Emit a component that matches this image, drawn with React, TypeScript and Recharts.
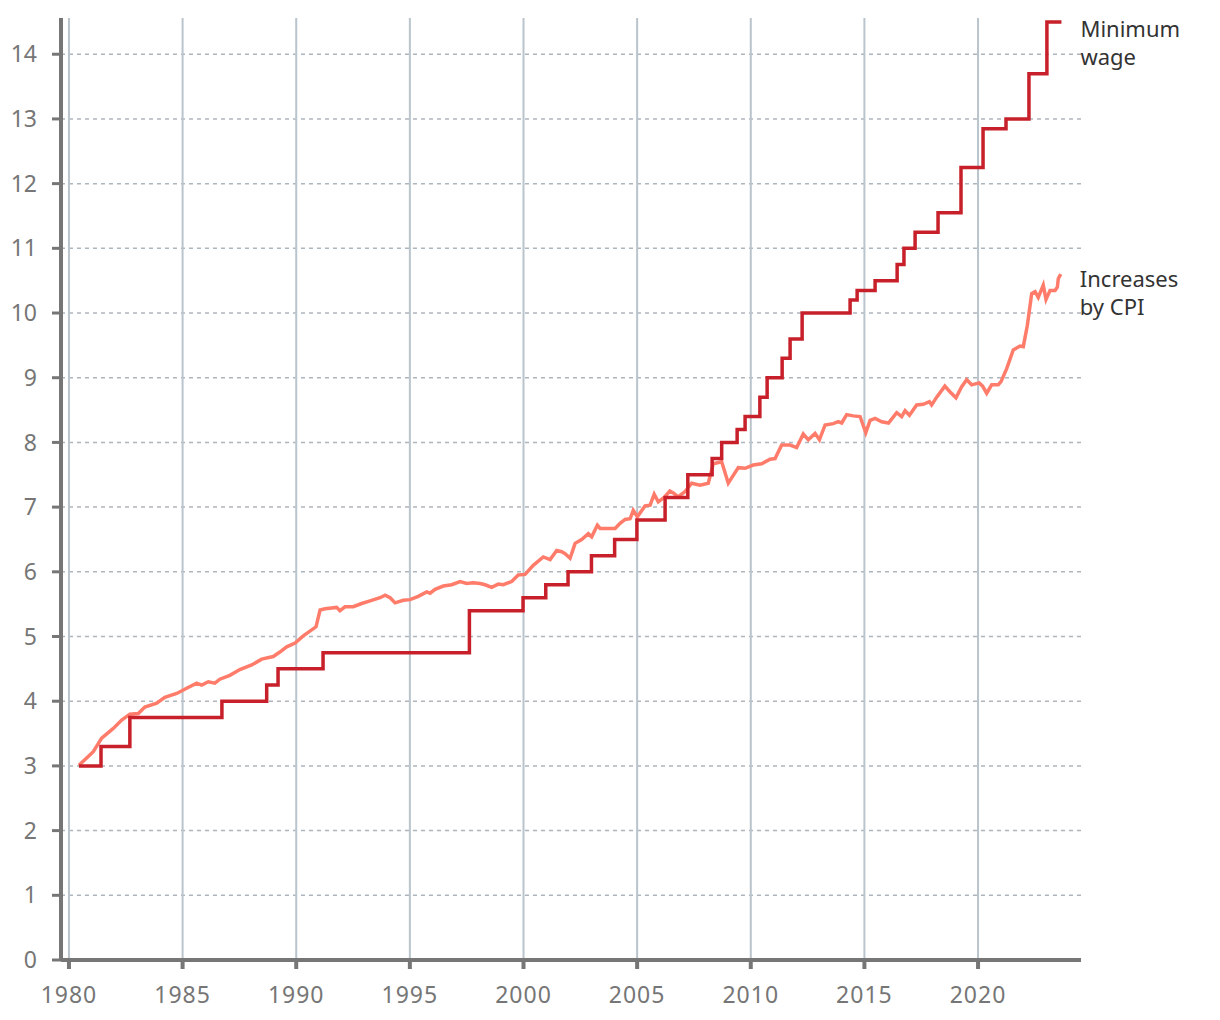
import { CartesianGrid, Line, LineChart, XAxis, YAxis } from "recharts"

// minimum wage steps (start of each level)
const wageYears = [
  1980.44, 1981.41, 1982.68, 1986.73, 1988.7, 1989.2, 1991.18, 1997.62, 1999.98, 2000.98,
  2001.96, 2002.99, 2004.01, 2004.99, 2006.23, 2007.23, 2008.3, 2008.72, 2009.4, 2009.75,
  2010.4, 2010.72, 2011.38, 2011.73, 2012.26, 2014.37, 2014.68, 2015.47, 2016.44, 2016.74,
  2017.23, 2018.24, 2019.25, 2020.22, 2021.23, 2022.24, 2023.03, 2023.67,
]
const wageValues = [
  3.0, 3.3, 3.75, 4.0, 4.25, 4.5, 4.75, 5.4, 5.6, 5.8,
  6.0, 6.25, 6.5, 6.8, 7.15, 7.5, 7.75, 8.0, 8.2, 8.4,
  8.7, 9.0, 9.3, 9.6, 10.0, 10.2, 10.35, 10.5, 10.75, 11.0,
  11.25, 11.55, 12.25, 12.85, 13.0, 13.7, 14.5, 14.5,
]

// 1980 wage grown by CPI
const cpiYears = [
  1980.44, 1981.07, 1981.44, 1981.95, 1982.32, 1982.68, 1983.05, 1983.34, 1983.86, 1984.22,
  1984.74, 1985.18, 1985.62, 1985.84, 1986.13, 1986.42, 1986.64, 1987.08, 1987.52, 1988.04,
  1988.48, 1988.99, 1989.28, 1989.58, 1989.95, 1990.31, 1990.87, 1991.05, 1991.27, 1991.78,
  1991.92, 1992.15, 1992.51, 1992.88, 1993.25, 1993.69, 1993.91, 1994.13, 1994.35, 1994.71,
  1995.01, 1995.37, 1995.74, 1995.89, 1996.11, 1996.47, 1996.84, 1997.21, 1997.5, 1997.79,
  1998.09, 1998.31, 1998.6, 1998.89, 1999.11, 1999.48, 1999.77, 2000.07, 2000.43, 2000.87,
  2001.17, 2001.46, 2001.68, 2001.83, 2002.05, 2002.27, 2002.56, 2002.85, 2003.0, 2003.25,
  2003.37, 2003.66, 2004.03, 2004.25, 2004.47, 2004.69, 2004.83, 2005.01, 2005.35, 2005.57,
  2005.75, 2005.93, 2006.22, 2006.44, 2006.59, 2006.81, 2007.11, 2007.4, 2007.77, 2008.13,
  2008.35, 2008.72, 2009.01, 2009.45, 2009.75, 2010.11, 2010.48, 2010.85, 2011.07, 2011.36,
  2011.73, 2012.02, 2012.31, 2012.53, 2012.83, 2013.02, 2013.27, 2013.63, 2013.85, 2014.0,
  2014.22, 2014.51, 2014.81, 2015.06, 2015.25, 2015.47, 2015.76, 2016.06, 2016.42, 2016.64,
  2016.79, 2016.98, 2017.3, 2017.59, 2017.86, 2017.96, 2018.18, 2018.54, 2018.77, 2019.03,
  2019.28, 2019.5, 2019.72, 2020.05, 2020.2, 2020.38, 2020.6, 2020.89, 2021.01, 2021.26,
  2021.55, 2021.85, 2021.99, 2022.17, 2022.36, 2022.51, 2022.65, 2022.87, 2022.99, 2023.17,
  2023.39, 2023.49, 2023.53, 2023.64,
]
const cpiValues = [
  3.01, 3.22, 3.43, 3.58, 3.71, 3.8, 3.81, 3.91, 3.97, 4.06,
  4.12, 4.2, 4.28, 4.25, 4.3, 4.28, 4.34, 4.4, 4.49, 4.56,
  4.65, 4.69, 4.76, 4.84, 4.9, 5.01, 5.15, 5.41, 5.43, 5.45,
  5.4, 5.46, 5.46, 5.51, 5.55, 5.6, 5.64, 5.6, 5.52, 5.56,
  5.57, 5.62, 5.69, 5.67, 5.73, 5.78, 5.8, 5.85, 5.82, 5.83,
  5.82, 5.8, 5.76, 5.81, 5.8, 5.85, 5.95, 5.96, 6.1, 6.23,
  6.19, 6.33, 6.31, 6.28, 6.21, 6.44, 6.5, 6.59, 6.54, 6.72,
  6.67, 6.67, 6.67, 6.75, 6.81, 6.82, 6.95, 6.85, 7.02, 7.03,
  7.2, 7.08, 7.16, 7.25, 7.22, 7.16, 7.24, 7.37, 7.34, 7.37,
  7.67, 7.7, 7.37, 7.61, 7.6, 7.65, 7.67, 7.74, 7.75, 7.96,
  7.96, 7.92, 8.13, 8.04, 8.14, 8.04, 8.27, 8.29, 8.32, 8.3,
  8.43, 8.41, 8.4, 8.15, 8.34, 8.37, 8.32, 8.3, 8.46, 8.4,
  8.49, 8.42, 8.58, 8.59, 8.63, 8.58, 8.7, 8.87, 8.78, 8.69,
  8.86, 8.97, 8.89, 8.92, 8.87, 8.76, 8.89, 8.89, 8.94, 9.14,
  9.43, 9.49, 9.48, 9.81, 10.3, 10.33, 10.24, 10.43, 10.21, 10.35,
  10.35, 10.4, 10.53, 10.6,
]

const xTicks = [1980, 1985, 1990, 1995, 2000, 2005, 2010, 2015, 2020]
const yTicks = [0, 1, 2, 3, 4, 5, 6, 7, 8, 9, 10, 11, 12, 13, 14]

const wageLabel = ["Minimum", "wage"]
const cpiLabel = ["Increases", "by CPI"]

const wageData = wageYears.map((year, i) => ({ year, value: wageValues[i] }))
const cpiData = cpiYears.map((year, i) => ({ year, value: cpiValues[i] }))

const FONT = "'Noto Sans', sans-serif"
const AXIS = "#767676"

// series name written to the right of the last point
function endLabel(lines: string[], count: number, dy: number) {
  return (props: any) => {
    const { cx, cy, index } = props
    if (index !== count - 1) return <g key={`d${index}`} />
    return (
      <g key={`d${index}`}>
        {lines.map((t, i) => (
          <text key={t} x={cx + 19} y={cy + dy + i * 28} fontFamily={FONT} fontSize={22} fill="#333333">
            {t}
          </text>
        ))}
      </g>
    )
  }
}

export default function App() {
  return (
    <div style={{ position: "absolute", left: 0, top: 0, background: "#fff" }}>
      <LineChart width={1220} height={1020} margin={{ top: 18, right: 139, bottom: 0, left: 0 }}>
        <CartesianGrid
          vertical={false}
          horizontalValues={yTicks.slice(1)}
          stroke="#adb5bd"
          strokeDasharray="4 4"
          strokeWidth={1.5}
        />
        <CartesianGrid horizontal={false} verticalValues={xTicks} stroke="#b9c4cc" strokeWidth={2} />
        <XAxis
          dataKey="year"
          type="number"
          domain={[1979.65, 2024.53]}
          ticks={xTicks}
          height={60}
          axisLine={{ stroke: AXIS, strokeWidth: 4 }}
          tickLine={{ stroke: AXIS, strokeWidth: 4 }}
          tickSize={9}
          tickMargin={18}
          tick={{ fill: AXIS, fontSize: 23, fontFamily: FONT, letterSpacing: 1 }}
        />
        <YAxis
          type="number"
          domain={[0, 14.56]}
          ticks={yTicks}
          width={61}
          axisLine={{ stroke: AXIS, strokeWidth: 4 }}
          tickLine={{ stroke: AXIS, strokeWidth: 3 }}
          tickSize={9}
          tickMargin={15}
          tick={{ fill: AXIS, fontSize: 23, fontFamily: FONT }}
        />
        <Line
          data={cpiData}
          dataKey="value"
          type="linear"
          stroke="#ff7c6b"
          strokeWidth={3.5}
          dot={endLabel(cpiLabel, cpiData.length, 13)}
          activeDot={false}
          isAnimationActive={false}
        />
        <Line
          data={wageData}
          dataKey="value"
          type="stepAfter"
          stroke="#c8202a"
          strokeWidth={3.5}
          dot={endLabel(wageLabel, wageData.length, 15)}
          activeDot={false}
          isAnimationActive={false}
        />
      </LineChart>
    </div>
  )
}
